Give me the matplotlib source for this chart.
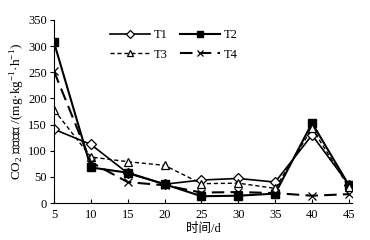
import matplotlib
matplotlib.use("Agg")
import matplotlib.pyplot as plt

days = [5, 10, 15, 20, 25, 30, 35, 40, 45]
t1 = [141, 112, 57, 36, 44, 47, 40, 130, 35]
t2 = [307, 68, 58, 36, 13, 14, 18, 153, 34]
t3 = [178, 88, 79, 72, 37, 38, 28, 143, 30]
t4 = [252, 78, 40, 34, 20, 21, 19, 14, 17]

plt.rcParams["font.family"] = ["Liberation Serif", "Noto Sans CJK SC"]
plt.rcParams["mathtext.fontset"] = "custom"
plt.rcParams["mathtext.rm"] = "Liberation Serif"

fig = plt.figure(figsize=(3.7, 2.4), dpi=100)
ax = fig.add_axes([0.146, 0.154, 0.805, 0.763])

l1, = ax.plot(days, t1, color="black", lw=1.2, marker="D", ms=5,
              mfc="white", mec="black", mew=0.9, label="T1")
l2, = ax.plot(days, t2, color="black", lw=1.5, marker="s", ms=6,
              mfc="black", mec="black", label="T2")
l3, = ax.plot(days, t3, color="black", lw=1.0, ls=(0, (3, 2)), marker="^", ms=6,
              mfc="white", mec="black", mew=0.9, label="T3")
l4, = ax.plot(days, t4, color="black", lw=1.5, ls=(0, (6, 3)), marker="x", ms=6,
              mec="black", mew=0.9, label="T4")

ax.set_xlim(5, 45.4)
ax.set_ylim(0, 350)
ax.set_xticks(days)
ax.set_yticks(range(0, 351, 50))
for s in ["top", "right"]:
    ax.spines[s].set_visible(False)
ax.tick_params(axis="x", direction="in", length=3, labelsize=9, pad=4)
ax.tick_params(axis="y", direction="out", length=3, labelsize=9, pad=2)

ax.set_xlabel("时间/d", fontsize=9, labelpad=2)
ax.set_ylabel("CO$_2$ 排放速率 /(mg·kg$^{-1}$·h$^{-1}$)", fontsize=9.5, labelpad=1)

# row 1: T1 T2, row 2: T3 T4
ax.legend([l1, l3, l2, l4], ["T1", "T3", "T2", "T4"], ncol=2, frameon=False,
          fontsize=9, handlelength=3.2, markerscale=0.8,
          columnspacing=1.0, handletextpad=0.3, labelspacing=0.6,
          loc="upper left", bbox_to_anchor=(0.15, 1.01))

fig.savefig("out.png", dpi=100)
